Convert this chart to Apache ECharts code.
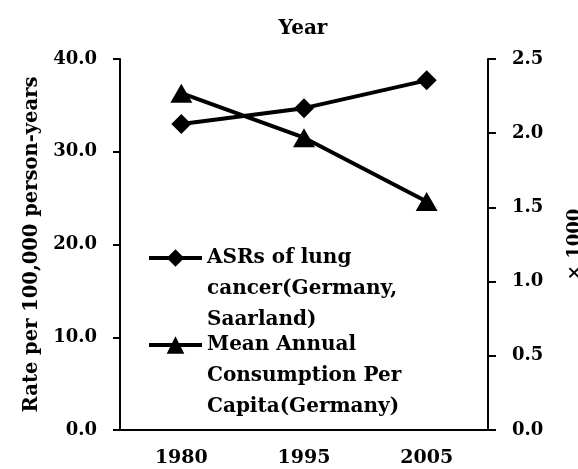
<!DOCTYPE html>
<html>
<head>
<meta charset="utf-8">
<script src="https://cdn.jsdelivr.net/npm/echarts@6/dist/echarts.min.js"></script>
<style>
  html, body { margin: 0; padding: 0; background: #fff; }
  #chart { width: 578px; height: 469px; }
</style>
</head>
<body>
<div id="chart"></div>
<script>
  // data
  const years = ['1980', '1995', '2005'];
  const asrLung = [33.0, 34.7, 37.7];        // left axis, rate per 100,000
  const consumption = [2.27, 1.97, 1.54];    // right axis, x 1000
  const nameAsr = 'ASRs of lung\ncancer(Germany,\nSaarland)';
  const nameCons = 'Mean Annual\nConsumption Per\nCapita(Germany)';

  const font = 'DejaVu Serif';
  const axisStyle = { color: '#000', width: 2 };
  const tickFont = { color: '#000', fontFamily: font, fontWeight: 'bold', fontSize: 18 };

  function legendAt(name, top) {
    return {
      data: [name],
      orient: 'vertical',
      left: 147,
      top: top,
      padding: 0,
      itemWidth: 53,
      itemHeight: 22,
      selectedMode: false,
      lineStyle: { width: 4, color: '#000' },
      // two empty lines first so the icon sits level with the first text line
      formatter: n => '\n\n' + n,
      textStyle: { color: '#000', fontFamily: font, fontWeight: 'bold', fontSize: 20, lineHeight: 31 }
    };
  }

  const chart = echarts.init(document.getElementById('chart'));
  chart.setOption({
    backgroundColor: '#fff',
    animation: false,
    title: {
      text: 'Year',
      left: 303,
      top: 19,
      padding: 0,
      textAlign: 'center',
      textStyle: { color: '#000', fontFamily: font, fontWeight: 'bold', fontSize: 20 }
    },
    legend: [legendAt(nameAsr, 258 - 77.5), legendAt(nameCons, 345 - 77.5)],
    grid: { left: 120, right: 90, top: 59, bottom: 39, outerBoundsMode: 'none' },
    xAxis: {
      type: 'category',
      data: years,
      boundaryGap: true,
      axisLine: { lineStyle: axisStyle },
      axisTick: { alignWithLabel: true, length: 6, lineStyle: axisStyle },
      axisLabel: Object.assign({}, tickFont, { margin: 19, fontSize: 19 }),
      splitLine: { show: false }
    },
    yAxis: [
      {
        type: 'value',
        min: 0, max: 40, interval: 10,
        name: 'Rate per 100,000 person-years',
        nameLocation: 'middle',
        nameGap: 78,
        nameTextStyle: { color: '#000', fontFamily: font, fontWeight: 'bold', fontSize: 19.5 },
        axisLine: { show: true, lineStyle: axisStyle },
        axisTick: { show: true, length: 7, lineStyle: axisStyle },
        axisLabel: Object.assign({ margin: 23, formatter: v => v.toFixed(1) }, tickFont),
        splitLine: { show: false }
      },
      {
        type: 'value',
        position: 'right',
        min: 0, max: 2.5, interval: 0.5,
        name: '× 1000',
        nameLocation: 'middle',
        nameGap: 78,
        nameTextStyle: { color: '#000', fontFamily: font, fontWeight: 'bold', fontSize: 18 },
        axisLine: { show: true, lineStyle: axisStyle },
        axisTick: { show: true, length: 8, lineStyle: axisStyle },
        axisLabel: Object.assign({ margin: 24, formatter: v => v.toFixed(1) }, tickFont),
        splitLine: { show: false }
      }
    ],
    series: [
      {
        name: nameAsr,
        type: 'line',
        yAxisIndex: 0,
        data: asrLung,
        symbol: 'diamond',
        symbolSize: 20,
        lineStyle: { color: '#000', width: 4 },
        itemStyle: { color: '#000' }
      },
      {
        name: nameCons,
        type: 'line',
        yAxisIndex: 1,
        data: consumption,
        symbol: 'triangle',
        symbolSize: [22, 19],
        lineStyle: { color: '#000', width: 4 },
        itemStyle: { color: '#000' }
      }
    ]
  });
</script>
</body>
</html>
